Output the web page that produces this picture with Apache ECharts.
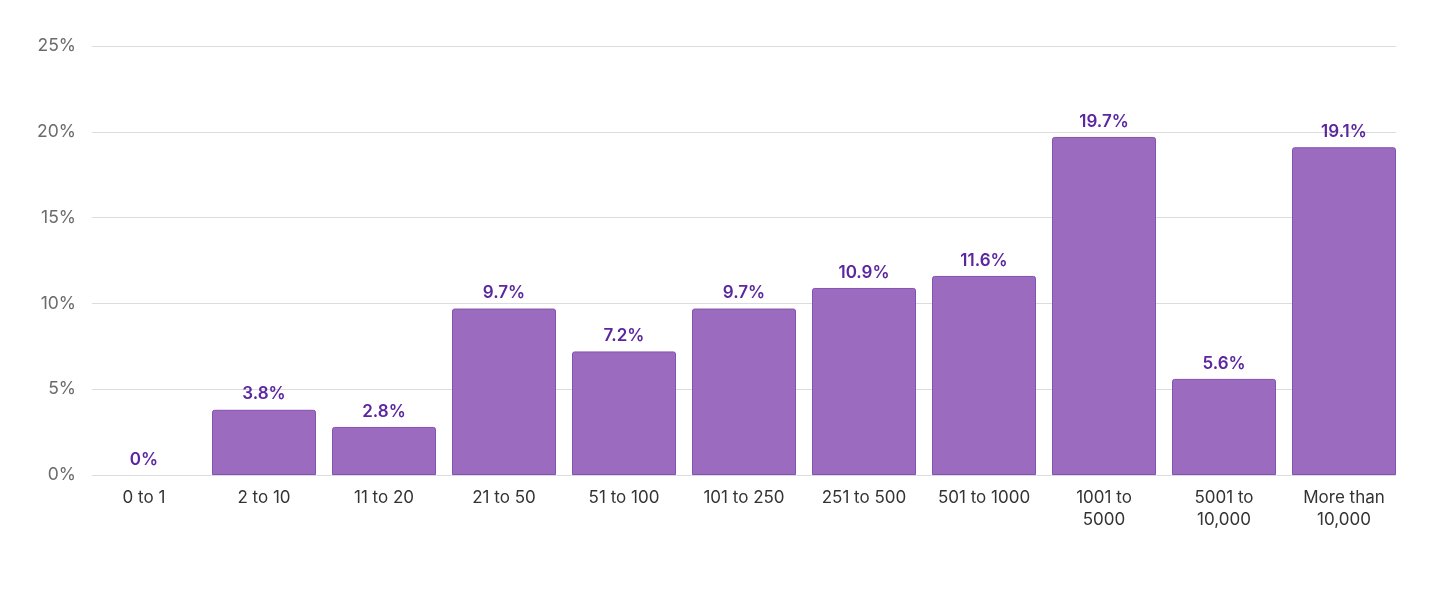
<!DOCTYPE html>
<html lang="en">
<head>
    <meta charset="UTF-8">
    <title>Distribution</title>
    <script src="https://cdn.jsdelivr.net/npm/echarts@6.0.0/dist/echarts.min.js"></script>
    <style>
        html, body { margin: 0; padding: 0; background: #fff; }
        #chart { width: 1456px; height: 594px; }
    </style>
</head>
<body>
    <div id="chart"></div>
    <script>
        // data
        const categories = ['0 to 1', '2 to 10', '11 to 20', '21 to 50', '51 to 100', '101 to 250',
            '251 to 500', '501 to 1000', '1001 to\n5000', '5001 to\n10,000', 'More than\n10,000'];
        const shares = [0, 3.8, 2.8, 9.7, 7.2, 9.7, 10.9, 11.6, 19.7, 5.6, 19.1];
        const yTicks = { min: 0, max: 25, step: 5 };

        const font = 'Inter, "Noto Sans", sans-serif';
        const chart = echarts.init(document.getElementById('chart'));

        chart.setOption({
            animation: false,
            // grid 0 carries the gridlines, grid 1 (a bit wider) carries the bars
            grid: [
                { left: 92, right: 60, top: 46, bottom: 119 },
                { left: 84, right: 52, top: 46, bottom: 119 }
            ],
            xAxis: [
                { gridIndex: 0, type: 'category', data: categories, show: false },
                {
                    gridIndex: 1,
                    type: 'category',
                    data: categories,
                    axisLine: { show: false },
                    axisTick: { show: false },
                    axisLabel: {
                        color: '#333',
                        fontFamily: font,
                        fontSize: 17,
                        lineHeight: 22,
                        margin: 12,
                        interval: 0
                    }
                }
            ],
            yAxis: [
                {
                    gridIndex: 0,
                    type: 'value',
                    min: yTicks.min,
                    max: yTicks.max,
                    interval: yTicks.step,
                    axisLine: { show: false },
                    axisTick: { show: false },
                    axisLabel: {
                        formatter: '{value}%',
                        color: '#6b6b6b',
                        fontFamily: font,
                        fontSize: 17.5,
                        margin: 16
                    },
                    splitLine: { lineStyle: { color: '#dcdcdc', width: 1 } }
                },
                { gridIndex: 1, type: 'value', min: yTicks.min, max: yTicks.max, show: false }
            ],
            series: [{
                type: 'bar',
                xAxisIndex: 1,
                yAxisIndex: 1,
                // an empty bar gets no outline
                data: shares.map(v => v === 0 ? { value: v, itemStyle: { borderWidth: 0 } } : v),
                barWidth: 104,
                itemStyle: {
                    color: '#9b6bbf',
                    borderColor: '#8650b0',
                    borderWidth: 1,
                    borderRadius: [2, 2, 0, 0]
                },
                label: {
                    show: true,
                    position: 'top',
                    distance: 7,
                    color: '#5b26a0',
                    fontFamily: font,
                    fontSize: 17,
                    fontWeight: 600,
                    formatter: p => p.value === 0 ? '0%' : p.value.toFixed(1) + '%'
                }
            }]
        });

        window.addEventListener('resize', () => chart.resize());
    </script>
</body>
</html>
